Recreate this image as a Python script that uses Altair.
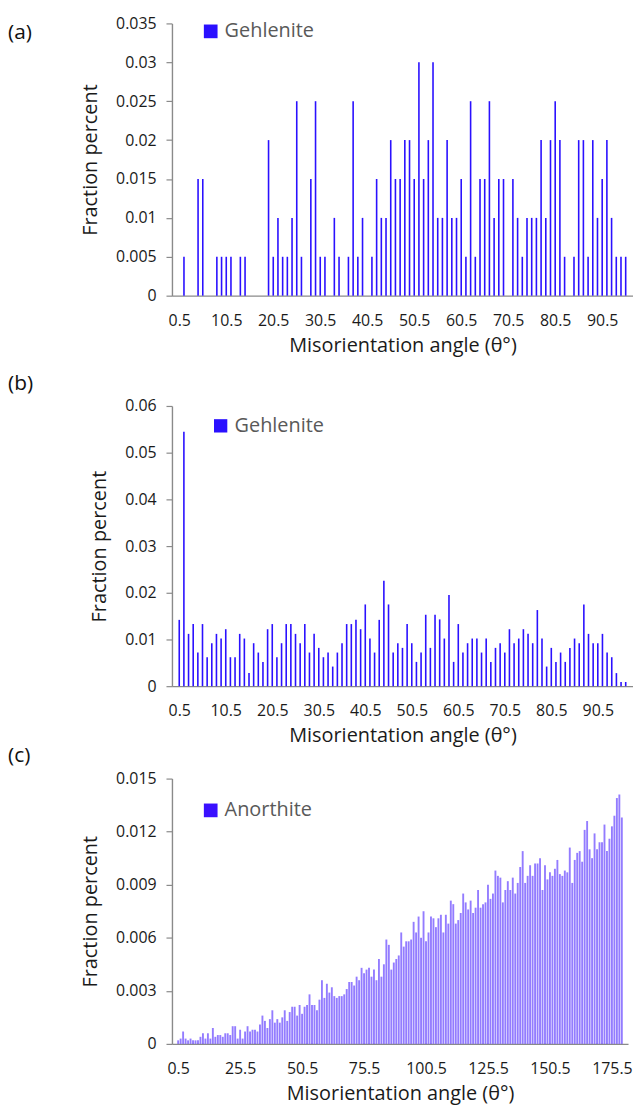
import altair as alt
import pandas as pd

FONT = "Open Sans"

# ---------------- data ----------------
angles_a = [i + 0.5 for i in range(96)]
frac_a = [0, 0.005, 0, 0, 0.015, 0.015, 0, 0, 0.005, 0.005,
          0.005, 0.005, 0, 0.005, 0.005, 0, 0, 0, 0, 0.02,
          0.005, 0.01, 0.005, 0.005, 0.01, 0.025, 0.005, 0, 0.015, 0.025,
          0.005, 0.005, 0, 0.01, 0.005, 0, 0.005, 0.025, 0.005, 0.01,
          0, 0.005, 0.015, 0.01, 0.01, 0.02, 0.015, 0.015, 0.02, 0.02,
          0.015, 0.03, 0.015, 0.02, 0.03, 0.01, 0.01, 0.02, 0.01, 0.01,
          0.015, 0.005, 0.025, 0.005, 0.015, 0.015, 0.025, 0.01, 0.015, 0.015,
          0, 0.015, 0.01, 0.005, 0.01, 0.01, 0.01, 0.02, 0.01, 0.02,
          0.025, 0.02, 0.005, 0, 0.005, 0.02, 0.02, 0.005, 0.02, 0.01,
          0.015, 0.02, 0.01, 0.005, 0.005, 0.005]

angles_b = [i + 0.5 for i in range(97)]
frac_b = [0.0142, 0.0545, 0.0112, 0.0133, 0.0072, 0.0133, 0.0062, 0.0092, 0.0112, 0.0102,
          0.0122, 0.0062, 0.0062, 0.0112, 0.0102, 0.0028, 0.0092, 0.0072, 0.0052, 0.0122,
          0.0133, 0.0062, 0.0092, 0.0133, 0.0133, 0.0112, 0.0092, 0.0133, 0.0072, 0.0112,
          0.0082, 0.0062, 0.0072, 0.0042, 0.0072, 0.0092, 0.0133, 0.0133, 0.0142, 0.0122,
          0.0175, 0.0102, 0.0072, 0.0142, 0.0226, 0.0175, 0.0072, 0.0092, 0.0082, 0.0133,
          0.0092, 0.0052, 0.0072, 0.0153, 0.0082, 0.0153, 0.0143, 0.0102, 0.0195, 0.0052,
          0.0133, 0.0072, 0.0092, 0.0102, 0.0102, 0.0072, 0.0102, 0.0052, 0.0082, 0.0092,
          0.0072, 0.0122, 0.0092, 0.0102, 0.0122, 0.0112, 0.0092, 0.0163, 0.0102, 0.0042,
          0.0082, 0.0052, 0.0072, 0.0052, 0.0082, 0.0102, 0.0092, 0.0175, 0.0112, 0.0092,
          0.0092, 0.0112, 0.0072, 0.0062, 0.0028, 0.0009, 0.0009]

angles_c = [i + 0.5 for i in range(180)]
frac_c = [0.0002, 0.0003, 0.0007, 0.0003, 0.0002, 0.0003, 0.0002, 0.0002, 0.0002, 0.0004,
          0.0006, 0.0003, 0.0006, 0.0003, 0.0009, 0.0004, 0.0005, 0.0005, 0.0004, 0.0006,
          0.0006, 0.0005, 0.0010, 0.0010, 0.0003, 0.0008, 0.0003, 0.0007, 0.0010, 0.0007,
          0.0008, 0.0008, 0.0007, 0.0011, 0.0016, 0.0013, 0.0009, 0.0014, 0.0019, 0.0012,
          0.0014, 0.0012, 0.0015, 0.0019, 0.0013, 0.0018, 0.0021, 0.0021, 0.0016, 0.0022,
          0.0017, 0.0021, 0.0022, 0.0028, 0.0022, 0.0022, 0.0019, 0.0025, 0.0036, 0.0026,
          0.0034, 0.0029, 0.0032, 0.0027, 0.0026, 0.0027, 0.0027, 0.0028, 0.0031, 0.0035,
          0.0035, 0.0033, 0.0038, 0.0036, 0.0043, 0.0040, 0.0042, 0.0043, 0.0038, 0.0042,
          0.0036, 0.0048, 0.0038, 0.0045, 0.0059, 0.0056, 0.0042, 0.0046, 0.0048, 0.0050,
          0.0063, 0.0055, 0.0058, 0.0058, 0.0059, 0.0069, 0.0063, 0.0072, 0.0060, 0.0075,
          0.0058, 0.0063, 0.0072, 0.0071, 0.0066, 0.0071, 0.0073, 0.0063, 0.0073, 0.0068,
          0.0081, 0.0079, 0.0068, 0.0070, 0.0074, 0.0085, 0.0080, 0.0076, 0.0081, 0.0074,
          0.0077, 0.0087, 0.0077, 0.0079, 0.0080, 0.0090, 0.0082, 0.0085, 0.0098, 0.0095,
          0.0094, 0.0080, 0.0087, 0.0092, 0.0087, 0.0094, 0.0085, 0.0091, 0.0100, 0.0109,
          0.0091, 0.0095, 0.0101, 0.0095, 0.0102, 0.0102, 0.0105, 0.0087, 0.0101, 0.0093,
          0.0097, 0.0095, 0.0099, 0.0104, 0.0096, 0.0095, 0.0098, 0.0097, 0.0111, 0.0091,
          0.0104, 0.0108, 0.0109, 0.0103, 0.0121, 0.0126, 0.0110, 0.0105, 0.0119, 0.0110,
          0.0114, 0.0114, 0.0124, 0.0109, 0.0116, 0.0123, 0.0129, 0.0139, 0.0141, 0.0128]

ticks_a = [0.5, 10.5, 20.5, 30.5, 40.5, 50.5, 60.5, 70.5, 80.5, 90.5]
ticks_c = [0.5, 25.5, 50.5, 75.5, 100.5, 125.5, 150.5, 175.5]
yticks_a = [0, 0.005, 0.01, 0.015, 0.02, 0.025, 0.03, 0.035]
yticks_b = [0, 0.01, 0.02, 0.03, 0.04, 0.05, 0.06]
yticks_c = [0, 0.003, 0.006, 0.009, 0.012, 0.015]

X_TITLE = "Misorientation angle (θ°)"
Y_TITLE = "Fraction percent"


def panel(angles, values, name, letter, width, height, xmax, xticks, yticks,
          color, bar_size, fill_opacity, leg_x, leg_y, sym_size, letter_y):
    df = pd.DataFrame({"angle": angles, "fraction": values, "series": name})
    df = df[df["fraction"] > 0]
    bars = alt.Chart(df).mark_bar(size=bar_size, fillOpacity=fill_opacity).encode(
        x=alt.X("angle:Q",
                scale=alt.Scale(domain=[0, xmax], nice=False, zero=False),
                axis=alt.Axis(values=xticks, format=".1f", title=X_TITLE,
                              ticks=False, labelPadding=17, titlePadding=7,
                              labelFlush=False)),
        y=alt.Y("fraction:Q",
                scale=alt.Scale(domain=[yticks[0], yticks[-1]], nice=False),
                axis=alt.Axis(values=yticks, format="~g", title=Y_TITLE,
                              tickSize=6, labelPadding=10, titlePadding=15)),
        color=alt.Color("series:N", scale=alt.Scale(range=[color]),
                        legend=alt.Legend(title=None, orient="none",
                                          legendX=leg_x, legendY=leg_y,
                                          symbolType="square", symbolSize=sym_size,
                                          symbolStrokeWidth=0, symbolOpacity=1,
                                          labelFontSize=20, labelFont=FONT,
                                          labelColor="#595959", labelOffset=4,
                                          padding=0)),
    )
    lab = alt.Chart(pd.DataFrame({"label": [letter]})).mark_text(
        align="left", baseline="middle", fontSize=21, font=FONT, color="#111111"
    ).encode(text="label:N", x=alt.value(-165), y=alt.value(letter_y))
    return alt.layer(bars, lab).properties(width=width, height=height)


def spacer(h):
    return alt.Chart(pd.DataFrame({"v": [0]})).mark_point(opacity=0).encode(
        x=alt.value(0), y=alt.value(0)).properties(width=10, height=h)


pa = panel(angles_a, frac_a, "Gehlenite", "(a)", 464, 274, 96, ticks_a, yticks_a,
           "#2a10ff", 1.6, 1.0, 29, -2, 190, 10)
pb = panel(angles_b, frac_b, "Gehlenite", "(b)", 464, 282, 97, ticks_a, yticks_b,
           "#2a10ff", 1.6, 1.0, 39, 10, 180, -22)
pc = panel(angles_c, frac_c, "Anorthite", "(c)", 459, 267, 180, ticks_c, yticks_c,
           "#3a10ff", 1.9, 0.55, 29, 22, 190, -23)

chart = alt.vconcat(pa, spacer(111), pb, spacer(93), pc, spacing=0, bounds="flush").properties(
    padding={"left": 0, "top": 4, "right": 0, "bottom": 0}
).resolve_scale(color="independent").configure_view(stroke=None).configure_axis(
    domainColor="#8a8a8a", domainWidth=1.4, tickColor="#8a8a8a", tickWidth=1.2,
    labelColor="#1a1a1a", titleColor="#1a1a1a", labelFont=FONT, titleFont=FONT,
    labelFontSize=16, titleFontSize=20, titleFontWeight="normal", grid=False
).configure_legend(labelFont=FONT)

chart.save("out.html", embed_options={"renderer": "svg", "actions": False})
